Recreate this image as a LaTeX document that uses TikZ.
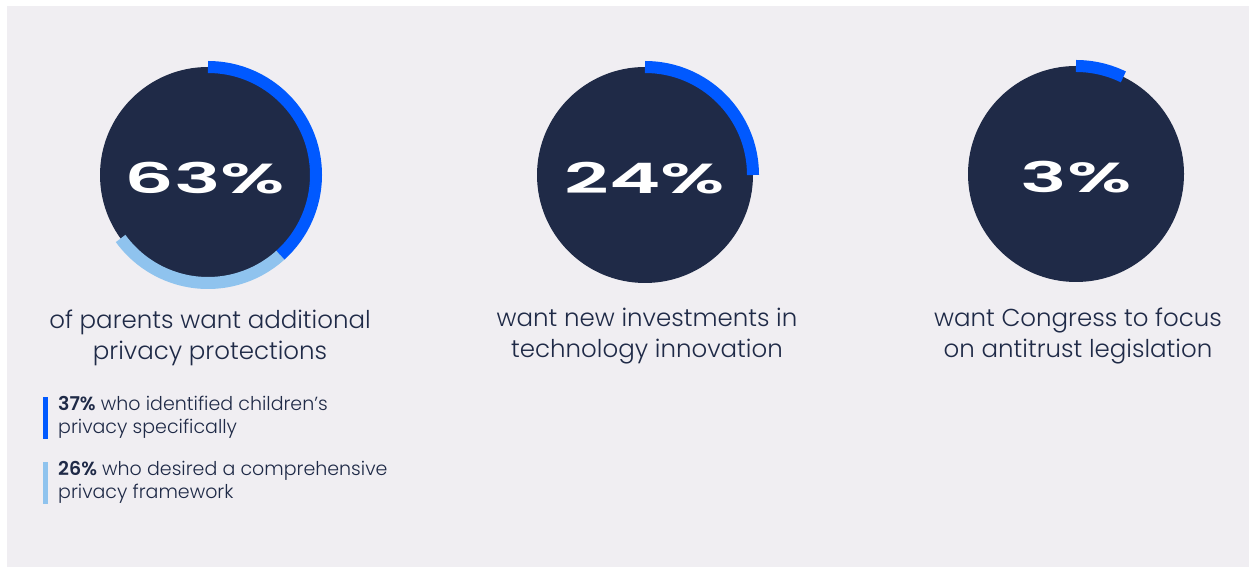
\documentclass[tikz,border=0pt]{standalone}
\usepackage{fontspec}
\setmainfont{Poppins Light}[BoldFont=Poppins SemiBold]
\newfontfamily\bignum{Poppins SemiBold}[FakeStretch=1.85]
\usepackage{tikz}
\definecolor{navy}{HTML}{1F2A47}
\definecolor{ringblue}{HTML}{0059FF}
\definecolor{paleblue}{HTML}{8FC3EE}
\definecolor{bggrey}{HTML}{F0EEF2}
\tikzset{
  ring/.style={line width=12pt},
  bigpct/.style={text=white,inner sep=0pt,font=\bignum\fontsize{42}{42}\selectfont},
  caption/.style={text=navy,inner sep=0pt,align=center,font=\fontsize{24.5}{31}\selectfont},
  subnote/.style={text=navy,inner sep=0pt,align=left,anchor=north west,font=\fontsize{19}{23}\selectfont}
}

\begin{document}
\begin{tikzpicture}[line cap=butt,line join=round,x=1pt,y=1pt]
\useasboundingbox (0,0) rectangle (1249,567);
\fill[bggrey] (7,0) rectangle (1249,561);
% parents
\begin{scope}[shift={(208,392)}]
\fill[navy] (0,0) circle (108);
\draw[ring,color=ringblue] (90:108) arc (90:-48:108);
\draw[ring,color=paleblue] (-48:108) arc (-48:-144:108);
\node[bigpct] (pctA) at (-3,-3) {63\%};
\end{scope}
% investments
\begin{scope}[shift={(645,392)}]
\fill[navy] (0,0) circle (108);
\draw[ring,color=ringblue] (90:108) arc (90:0:108);
\node[bigpct] (pctB) at (0,-3) {24\%};
\end{scope}
% antitrust
\begin{scope}[shift={(1076,393)}]
\fill[navy] (0,0) circle (108);
\draw[ring,color=ringblue] (90:108) arc (90:64:108);
\node[bigpct] (pctC) at (0,-3) {3\%};
%\draw[ring,color=paleblue] (64:108) arc (64:40:108);
\end{scope}
\node[caption,anchor=base] (capA) at (210,207) {of parents want additional\\privacy protections};
\node[caption,anchor=base] (capB) at (647,209) {want new investments in\\technology innovation};
\node[caption,anchor=base] (capC) at (1078,209) {want Congress to focus\\on antitrust legislation};
% breakdown of the 63
\fill[ringblue] (43,128) rectangle (48,170);
\fill[paleblue] (43,63) rectangle (48,105);
\node[subnote] (noteA) at (58,171) {\textbf{37\%} who identified children’s\\privacy specifically};
\node[subnote] (noteB) at (58,106) {\textbf{26\%} who desired a comprehensive\\privacy framework};
\end{tikzpicture}
\end{document}
